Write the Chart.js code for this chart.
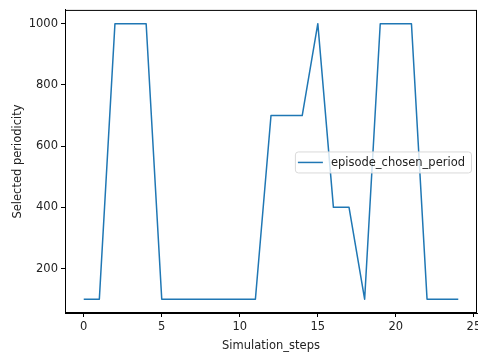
<!DOCTYPE html>
<html>
<head>
<meta charset="utf-8">
<script src="https://cdn.jsdelivr.net/npm/chart.js@4"></script>
<style>
  html, body { margin: 0; padding: 0; background: #fff; }
  #wrap { width: 478px; height: 353px; }
</style>
</head>
<body>
<div id="wrap"><canvas id="grafico" width="478" height="353"></canvas></div>
<script>
// data
const steps = [0, 1, 2, 3, 4, 5, 6, 7, 8, 9, 10, 11, 12, 13, 14, 15, 16, 17, 18, 19, 20, 21, 22, 23, 24];
const chosenPeriod = [100, 100, 1000, 1000, 1000, 100, 100, 100, 100, 100, 100, 100, 700, 700, 700, 1000, 400, 400, 100, 1000, 1000, 1000, 100, 100, 100];
const xTicks = [0, 5, 10, 15, 20, 25];
const yTicks = [200, 400, 600, 800, 1000];
const seriesName = 'episode_chosen_period';

const fontFam = '"DejaVu Sans", sans-serif';
const fontSize = 11.5;

// frame on all four sides + legend box inside the plot
const framePlugin = {
    id: 'frame',
    afterDraw(chart) {
        const { ctx, chartArea: a } = chart;
        ctx.save();
        ctx.strokeStyle = '#000';
        ctx.lineWidth = 1;
        ctx.strokeRect(a.left + 0.5, a.top + 0.5, a.right - a.left - 1, a.bottom - a.top - 1);

        // legend, centre right
        ctx.font = fontSize + 'px ' + fontFam;
        const tw = ctx.measureText(seriesName).width;
        const w = tw + 42, h = 21;
        const x = a.right - 6 - w;
        const y = (a.top + a.bottom) / 2 - h / 2 + 0.5;
        ctx.fillStyle = 'rgba(255,255,255,0.8)';
        ctx.strokeStyle = '#d9d9d9';
        ctx.beginPath();
        ctx.roundRect(x + 0.5, y + 0.5, w, h, 3);
        ctx.fill();
        ctx.stroke();
        ctx.strokeStyle = '#1f77b4';
        ctx.lineWidth = 1.5;
        ctx.beginPath();
        ctx.moveTo(x + 3, y + h / 2 + 0.5);
        ctx.lineTo(x + 28, y + h / 2 + 0.5);
        ctx.stroke();
        ctx.fillStyle = '#222';
        ctx.textBaseline = 'middle';
        ctx.fillText(seriesName, x + 36, y + h / 2 + 1);
        ctx.restore();
    }
};

document.addEventListener('DOMContentLoaded', () => {
    const ctx = document.getElementById('grafico').getContext('2d');
    new Chart(ctx, {
        type: 'line',
        data: {
            datasets: [{
                label: seriesName,
                data: steps.map((s, i) => ({ x: s, y: chosenPeriod[i] })),
                borderColor: '#1f77b4',
                borderWidth: 1.5,
                borderJoinStyle: 'round',
                pointRadius: 0,
                fill: false,
                tension: 0
            }]
        },
        options: {
            responsive: false,
            animation: false,
            layout: { padding: { top: 8, right: 1, left: 0, bottom: 0 } },
            plugins: {
                legend: { display: false },
                tooltip: { enabled: false }
            },
            scales: {
                x: {
                    type: 'linear',
                    min: -1.2,
                    max: 25.2,
                    afterBuildTicks: (ax) => { ax.ticks = xTicks.map(v => ({ value: v })); },
                    afterFit: (ax) => { ax.height = 40; ax.paddingRight = 0; ax.paddingLeft = 0; },
                    grid: { drawOnChartArea: false, tickLength: 4, tickColor: '#000' },
                    border: { color: '#000' },
                    ticks: { color: '#222', font: { family: fontFam, size: fontSize }, padding: 3, maxRotation: 0, callback: (v) => String(v) },
                    title: { display: true, text: 'Simulation_steps', color: '#222', font: { family: fontFam, size: fontSize }, padding: { top: 1, bottom: 0 } }
                },
                y: {
                    min: 55,
                    max: 1045,
                    afterBuildTicks: (ax) => { ax.ticks = yTicks.map(v => ({ value: v })); },
                    afterFit: (ax) => { ax.width = 65; },
                    grid: { drawOnChartArea: false, tickLength: 4, tickColor: '#000' },
                    border: { color: '#000' },
                    ticks: { color: '#222', font: { family: fontFam, size: fontSize }, padding: 3, callback: (v) => String(v) },
                    title: { display: true, text: 'Selected periodicity', color: '#222', font: { family: fontFam, size: fontSize }, padding: { top: 11, bottom: 0 } }
                }
            }
        },
        plugins: [framePlugin]
    });
});
</script>
</body>
</html>
